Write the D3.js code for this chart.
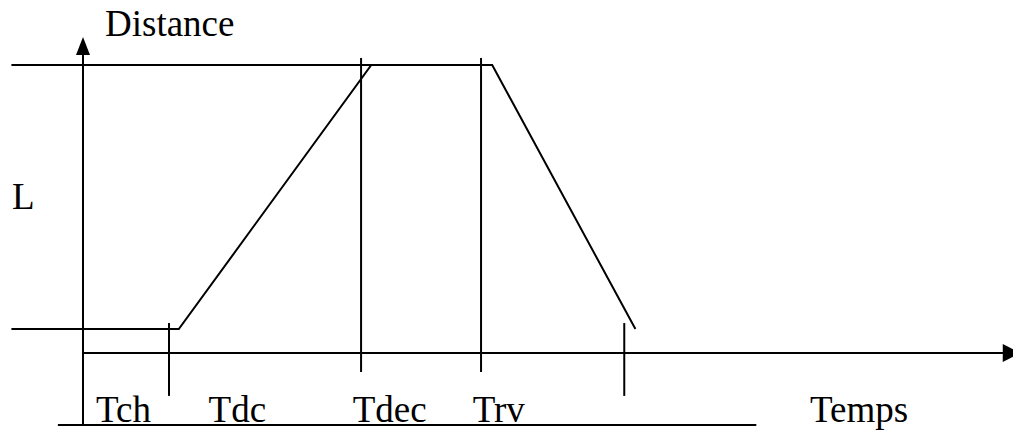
<!DOCTYPE html>
<html><head><meta charset="utf-8">
<script src="https://cdn.jsdelivr.net/npm/d3@7"></script>
<style>html,body{margin:0;padding:0;background:#fff;overflow:hidden}</style>
</head><body>
<svg id="c" width="1013" height="431"></svg>
<script>
// Data (time units on x, distance units on y; L = 100)
const distanceProfile = [[-7.7, 8.3], [10.3, 8.3], [31.0, 100], [44.0, 100], [59.4, 8.3]];
const topLevel = [[-7.7, 100], [31.0, 100]];
const markerTimes = [9.25, 29.9, 42.8, 58.2];
const markerTops = [10.4, 102.4, 102.4, 10.4];
const markerBottoms = [-14.9, -6.6, -6.6, -14.9];
const periodLabels = ["Tch", "Tdc", "Tdec", "Trv"];
const periodLabelTimes = [1.4, 13.5, 29.0, 41.9];
const axisTitles = {x: "Temps", y: "Distance", level: "L"};

const svg = d3.select("#c");
const x = d3.scaleLinear().domain([0, 100]).range([83, 1013]);
const y = d3.scaleLinear().domain([0, 100]).range([353, 65]);
const line = d3.line().x(d => x(d[0])).y(d => y(d[1]));
const font = "'Liberation Serif','Times New Roman',serif";

const g = svg.append("g").attr("stroke", "#000").attr("stroke-width", 2).attr("fill", "none");

// Y axis (vertical) with arrow
g.append("path").attr("d", line([[0, -25], [0, 104]]));
svg.append("path").attr("fill", "#000")
  .attr("d", `M${x(0)},${y(109.7)} L${x(0) - 7},${y(103.5)} L${x(0) + 7},${y(103.5)} Z`);
// X axis with arrow
g.append("path").attr("d", line([[0, 0], [99, 0]]));
svg.append("path").attr("fill", "#000")
  .attr("d", `M${x(100.8)},${y(0)} L${x(98.9)},${y(0) - 9} L${x(98.9)},${y(0) + 9} Z`);
// Bottom baseline under labels
g.append("path").attr("d", line([[-2.7, -25], [72.4, -25]]));

// Distance profile
g.append("path").attr("d", line(topLevel));
g.append("path").attr("d", line(distanceProfile));

// Marker ticks
markerTimes.forEach((t, i) => {
  g.append("path").attr("d", line([[t, markerTops[i]], [t, markerBottoms[i]]]));
});

// Labels
const txt = svg.append("g").attr("font-family", font).attr("font-size", 37).attr("fill", "#000");
periodLabels.forEach((s, i) => {
  txt.append("text").attr("x", x(periodLabelTimes[i])).attr("y", y(-24)).text(s);
});
txt.append("text").attr("x", 810).attr("y", y(-24)).text(axisTitles.x);
txt.append("text").attr("x", 105).attr("y", 36).text(axisTitles.y);
txt.append("text").attr("x", 12).attr("y", 209).text(axisTitles.level);
</script>
</body></html>
